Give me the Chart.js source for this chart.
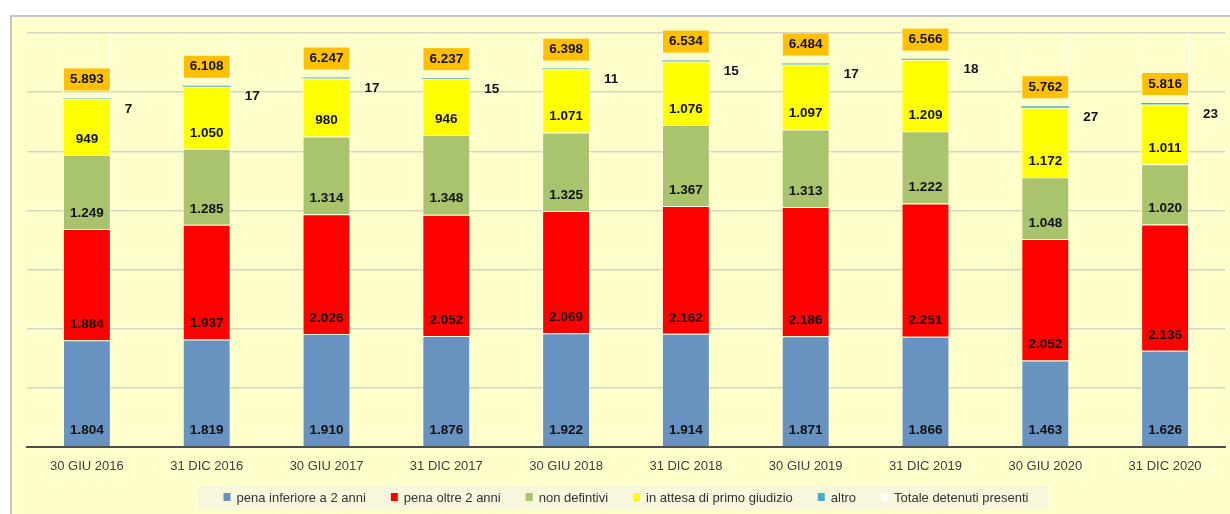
<!DOCTYPE html>
<html lang="it">
<head>
<meta charset="UTF-8">
<title>Detenuti presenti</title>
<script src="https://cdn.jsdelivr.net/npm/chart.js"></script>
<style>
  body { margin: 0; background: #fff; overflow: hidden; }
  #frame { position: absolute; left: 10px; top: 15px; width: 1220px; height: 499px; box-sizing: border-box;
           background: #ffffcc; border-top: 2px solid #c6c6c6; border-left: 2px solid #c6c6c6; }
  #myChart { position: absolute; left: 0; top: 0; }
</style>
</head>
<body>
<div id="frame"></div>
<canvas id="myChart" width="1230" height="514"></canvas>
<script>
// dati
const periodi = ['30 GIU 2016', '31 DIC 2016', '30 GIU 2017', '31 DIC 2017', '30 GIU 2018',
                 '31 DIC 2018', '30 GIU 2019', '31 DIC 2019', '30 GIU 2020', '31 DIC 2020'];
const penaInferiore = [1804, 1819, 1910, 1876, 1922, 1914, 1871, 1866, 1463, 1626];
const penaOltre = [1884, 1937, 2026, 2052, 2069, 2162, 2186, 2251, 2052, 2136];
const nonDefinitivi = [1249, 1285, 1314, 1348, 1325, 1367, 1313, 1222, 1048, 1020];
const inAttesa = [949, 1050, 980, 946, 1071, 1076, 1097, 1209, 1172, 1011];
const altro = [7, 17, 17, 15, 11, 15, 17, 18, 27, 23];
const totale = [5893, 6108, 6247, 6237, 6398, 6534, 6484, 6566, 5762, 5816];

const fmt = n => String(n).replace(/\B(?=(\d{3})+(?!\d))/g, '.');
const FONT = '"Liberation Sans", Arial, sans-serif';

// etichette dei valori
const etichette = {
    id: 'etichette',
    afterDatasetsDraw(chart) {
        const ctx = chart.ctx;
        ctx.save();
        ctx.font = 'bold 13.5px ' + FONT;
        ctx.textBaseline = 'middle';
        ctx.fillStyle = '#111';
        ctx.textAlign = 'center';
        for (let d = 0; d < 4; d++) {
            chart.getDatasetMeta(d).data.forEach((bar, i) => {
                ctx.fillText(fmt(chart.data.datasets[d].data[i]), bar.x, bar.base - 16);
            });
        }
        ctx.textAlign = 'left';
        chart.getDatasetMeta(4).data.forEach((bar, i) => {
            ctx.fillText(fmt(altro[i]), bar.x + bar.width / 2 + 14, bar.y + 11);
        });
        ctx.textAlign = 'center';
        chart.getDatasetMeta(5).data.forEach((bar, i) => {
            const t = fmt(totale[i]);
            const w = ctx.measureText(t).width + 12;
            const cy = bar.base - 19;
            ctx.fillStyle = '#ffc000';
            ctx.fillRect(bar.x - w / 2, cy - 11, w, 22);
            ctx.fillStyle = '#111';
            ctx.fillText(t, bar.x, cy);
        });
        ctx.restore();
    }
};

// legenda disegnata a mano
const legenda = {
    id: 'legenda',
    afterDraw(chart) {
        const ctx = chart.ctx;
        const area = chart.chartArea;
        const sets = chart.data.datasets;
        ctx.save();
        ctx.font = '13px ' + FONT;
        const widths = sets.map(s => 13 + ctx.measureText(s.label).width);
        const total = widths.reduce((a, b) => a + b, 0) + 25 * (sets.length - 1);
        let x = (area.left + area.right) / 2 - total / 2;
        const cy = 497;
        ctx.fillStyle = '#f7f7de';
        ctx.fillRect(x - 25, 485, total + 45, 25);
        ctx.textBaseline = 'middle';
        ctx.textAlign = 'left';
        sets.forEach((s, i) => {
            ctx.fillStyle = s.legendColor;
            ctx.fillRect(x, cy - 4, 7, 8);
            ctx.fillStyle = '#333';
            ctx.fillText(s.label, x + 13, cy + 1);
            x += widths[i] + 25;
        });
        ctx.restore();
    }
};

const segBorder = 'rgba(255,255,255,0.55)';
const ctx = document.getElementById('myChart').getContext('2d');
new Chart(ctx, {
    type: 'bar',
    data: {
        labels: periodi,
        datasets: [
            { label: 'pena inferiore a 2 anni', data: penaInferiore, backgroundColor: '#6893c0', legendColor: '#6893c0', borderColor: segBorder, borderWidth: 1 },
            { label: 'pena oltre 2 anni', data: penaOltre, backgroundColor: '#ff0000', legendColor: '#ff0000', borderColor: segBorder, borderWidth: 1 },
            { label: 'non defintivi', data: nonDefinitivi, backgroundColor: '#a9c46c', legendColor: '#a9c46c', borderColor: segBorder, borderWidth: 1 },
            { label: 'in attesa di primo giudizio', data: inAttesa, backgroundColor: '#ffff00', legendColor: '#ffff00', borderColor: segBorder, borderWidth: 1 },
            { label: 'altro', data: altro, backgroundColor: '#4bacc6', legendColor: '#4bacc6', borderWidth: 0 },
            { label: 'Totale detenuti presenti', data: totale, backgroundColor: 'rgba(0,0,0,0)', legendColor: '#ffffff', borderColor: 'rgba(255,255,255,0.9)', borderWidth: 1 }
        ]
    },
    options: {
        responsive: false,
        animation: false,
        layout: { padding: { left: 27, right: 5, top: 33, bottom: 0 } },
        datasets: { bar: { categoryPercentage: 1, barPercentage: 0.4 } },
        plugins: {
            legend: { display: false },
            tooltip: { enabled: false }
        },
        scales: {
            x: {
                stacked: true,
                grid: { display: false, drawTicks: false },
                border: { display: true, color: '#4d4d4d', width: 2 },
                ticks: { color: '#404040', font: { family: FONT, size: 13 }, padding: 12, maxRotation: 0 },
                afterFit: s => { s.height = 67; }
            },
            y: {
                stacked: true,
                min: 0,
                max: 7000,
                ticks: { display: false, stepSize: 1000 },
                grid: { color: '#d6d6c4', lineWidth: 1.5, drawTicks: false },
                border: { display: false },
                afterFit: s => { s.width = 0; }
            }
        }
    },
    plugins: [etichette, legenda]
});
</script>
</body>
</html>
